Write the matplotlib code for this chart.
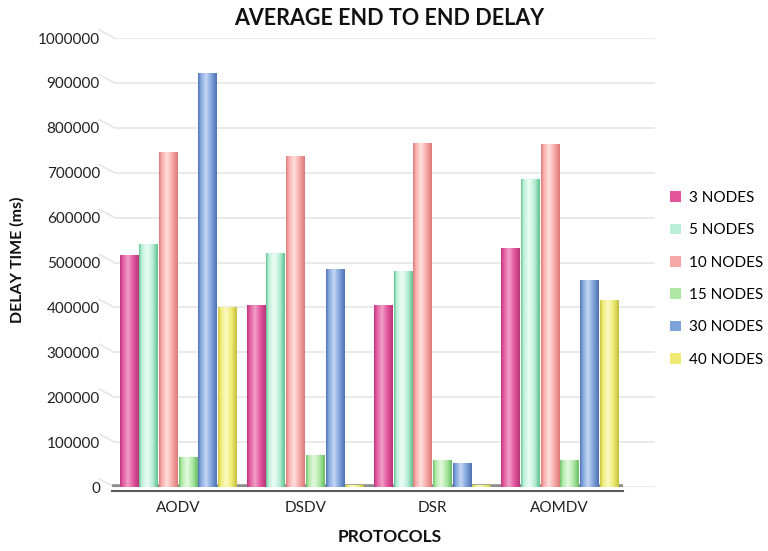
import matplotlib
matplotlib.use("Agg")
import matplotlib.pyplot as plt
import numpy as np
from matplotlib.colors import LinearSegmentedColormap

plt.rcParams["font.family"] = ["Lato", "DejaVu Sans"]

protocols = ["AODV", "DSDV", "DSR", "AOMDV"]
series_names = ["3 NODES", "5 NODES", "10 NODES", "15 NODES", "30 NODES", "40 NODES"]
nodes_3 = [515000, 405000, 405000, 530000]
nodes_5 = [540000, 520000, 480000, 685000]
nodes_10 = [745000, 737000, 765000, 762000]
nodes_15 = [65000, 70000, 60000, 60000]
nodes_30 = [920000, 485000, 53000, 460000]
nodes_40 = [400000, 4000, 4000, 415000]
yticks = [0, 100000, 200000, 300000, 400000, 500000, 600000, 700000, 800000, 900000, 1000000]

series = [nodes_3, nodes_5, nodes_10, nodes_15, nodes_30, nodes_40]
base_colors = ["#e2559c", "#b9efd8", "#f7a8a6", "#aee8a4", "#7ea2da", "#efeb72"]
edge_colors = ["#b8357a", "#62bf8e", "#d97a78", "#68bd64", "#4f72b3", "#c4bf40"]
light_colors = ["#f0a0c8", "#eefdf6", "#fee0de", "#e4fadf", "#c5d8f4", "#fbfac4"]

fig = plt.figure(figsize=(7.68, 5.51), dpi=100)
ax = fig.add_axes([0.141, 0.116, 0.712, 0.815])

x = np.arange(len(protocols))
width = 0.155
offsets = (np.arange(len(series)) - 2.5) * width
grad = np.linspace(0, 1, 64)[np.newaxis, :]

# gridlines with a small slanted start, imitating the 3D back wall
for t in yticks:
    ax.plot([-0.62, -0.5], [t + 18000, t], color="#e6e6e6", lw=1.2, clip_on=False, zorder=0)
    ax.plot([-0.5, 3.74], [t, t], color="#e6e6e6", lw=1.2, zorder=0)

for i, vals in enumerate(series):
    xs = x + offsets[i]
    w = width * 0.95
    ax.bar(xs, vals, w, color=base_colors[i], linewidth=0, label=series_names[i], zorder=1)
    cmap = LinearSegmentedColormap.from_list(
        f"cyl{i}",
        [(0, edge_colors[i]), (0.12, base_colors[i]), (0.42, light_colors[i]),
         (0.72, base_colors[i]), (1, edge_colors[i])])
    for xc, v in zip(xs, vals):
        ax.imshow(grad, cmap=cmap, extent=(xc - w / 2, xc + w / 2, 0, v),
                  aspect="auto", zorder=2, interpolation="bicubic")

# floor
ax.plot([-0.52, 3.5], [0, 0], color="#8c8c8c", lw=4, zorder=1, solid_capstyle="butt")
ax.plot([-0.52, 3.5], [-9000, -9000], color="#5a5a5a", lw=1.5, zorder=1, clip_on=False)

ax.set_xlim(-0.55, 3.75)
ax.set_ylim(0, 1000000)
ax.set_yticks(yticks)
ax.set_yticklabels([str(t) for t in yticks], fontsize=11, color="#222222")
ax.set_xticks(x)
ax.set_xticklabels(protocols, fontsize=11, color="#222222")
ax.tick_params(length=0, pad=6)
ax.tick_params(axis="x", pad=10)
for s in ax.spines.values():
    s.set_visible(False)

fig.text(0.507, 0.967, "AVERAGE END TO END DELAY", ha="center", va="center",
         fontsize=15.5, fontweight="bold", color="#111111")
fig.text(0.022, 0.528, "DELAY TIME (ms)", ha="center", va="center", rotation=90,
         fontsize=11.5, fontweight="bold", color="#111111")
fig.text(0.508, 0.025, "PROTOCOLS", ha="center", va="center",
         fontsize=12.5, fontweight="bold", color="#111111")

handles, labels = ax.get_legend_handles_labels()
fig.legend(handles, labels, loc="center left", bbox_to_anchor=(0.865, 0.494),
           frameon=False, fontsize=11, handlelength=0.7, handleheight=0.7,
           handletextpad=0.5, labelspacing=1.2, borderaxespad=0)

fig.savefig("out.png", dpi=100)
